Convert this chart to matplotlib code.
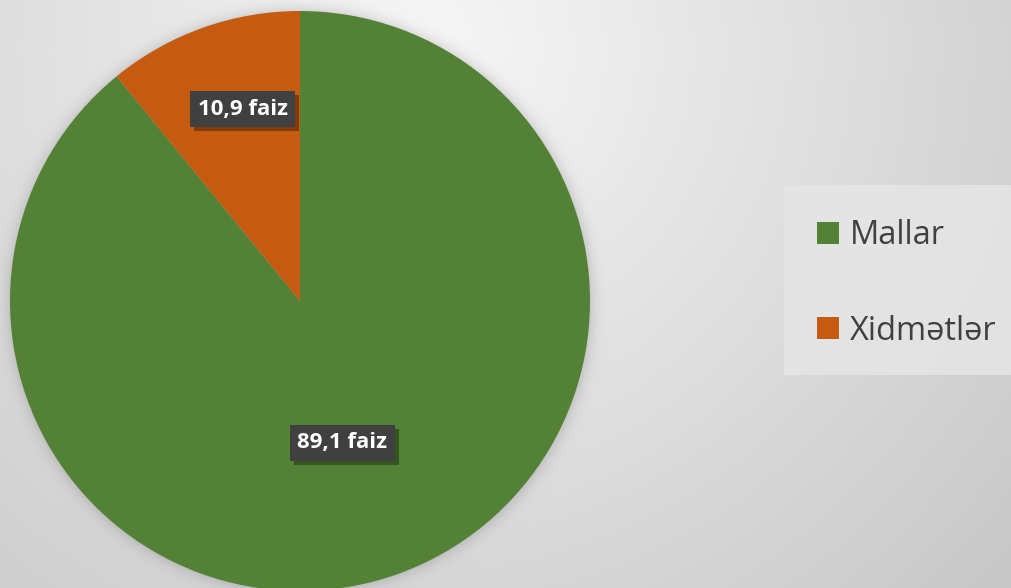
import numpy as np
import matplotlib
matplotlib.use("Agg")
import matplotlib.pyplot as plt
from matplotlib.patches import Rectangle
import matplotlib.patheffects as pe

categories = ["Mallar", "Xidmətlər"]
values = [89.1, 10.9]
labels = ["89,1 faiz", "10,9 faiz"]
colors = ["#538135", "#C55A11"]

W, H = 1011, 588
fig = plt.figure(figsize=(W / 100, H / 100), dpi=100)

# background gradient + pie shadow
bg_ax = fig.add_axes([0, 0, 1, 1], zorder=0)
yy, xx = np.mgrid[0:H, 0:W]
d = np.hypot(xx - 420, yy - 50)
bg = 0.97 - 0.19 * np.clip(d / 800, 0, 1.2)
cx, cy, R = 300, 301, 290
dc = np.hypot(xx - cx, yy - cy)
shadow = 0.22 * 0.5 * (1 - np.tanh((dc - R) / 9))
bg = bg * (1 - shadow)
bg_ax.imshow(np.dstack([bg, bg, bg]), extent=[0, W, H, 0], aspect="auto", interpolation="bilinear")
bg_ax.set_xlim(0, W)
bg_ax.set_ylim(H, 0)
bg_ax.axis("off")

# pie
ax = fig.add_axes([(cx - R) / W, (H - cy - R) / H, 2 * R / W, 2 * R / H], zorder=1)
wedges, _ = ax.pie(values, colors=colors, startangle=90, counterclock=False,
                   radius=1, wedgeprops=dict(linewidth=0))
ax.set_xlim(-1, 1)
ax.set_ylim(-1, 1)
ax.set_aspect("equal")
ax.axis("off")

dists = [0.51, 0.69]
angle_shift = [-3.0, -3.0]
for w, lab, dist, ash in zip(wedges, labels, dists, angle_shift):
    th = np.deg2rad((w.theta1 + w.theta2) / 2 + ash)
    x, y = dist * np.cos(th), dist * np.sin(th)
    t = ax.text(x, y, lab, ha="center", va="center", fontsize=16, fontweight="bold",
                family="Open Sans", color="white",
                bbox=dict(boxstyle="square,pad=0.34", fc="#404040", ec="none"))
    t.get_bbox_patch().set_path_effects([
        pe.SimplePatchShadow(offset=(3, -3), shadow_rgbFace="black", alpha=0.35),
        pe.Normal()])

# legend
fig.patches.append(Rectangle((784 / W, 1 - 375 / H), (W - 784) / W, 190 / H,
                             transform=fig.transFigure, fc="#e6e6e6", ec="none",
                             alpha=0.85, zorder=2))
ys = [233, 328]
for cat, col, yv in zip(categories, colors, ys):
    fig.patches.append(Rectangle((817 / W, 1 - (yv + 11) / H), 22 / W, 22 / H,
                                 transform=fig.transFigure, fc=col, ec="none", zorder=3))
    fig.text(850 / W, 1 - (yv + 3) / H, cat, ha="left", va="center", fontsize=23.5,
             family="Open Sans", color="#404040", zorder=3)

fig.savefig("out.png", dpi=100)
